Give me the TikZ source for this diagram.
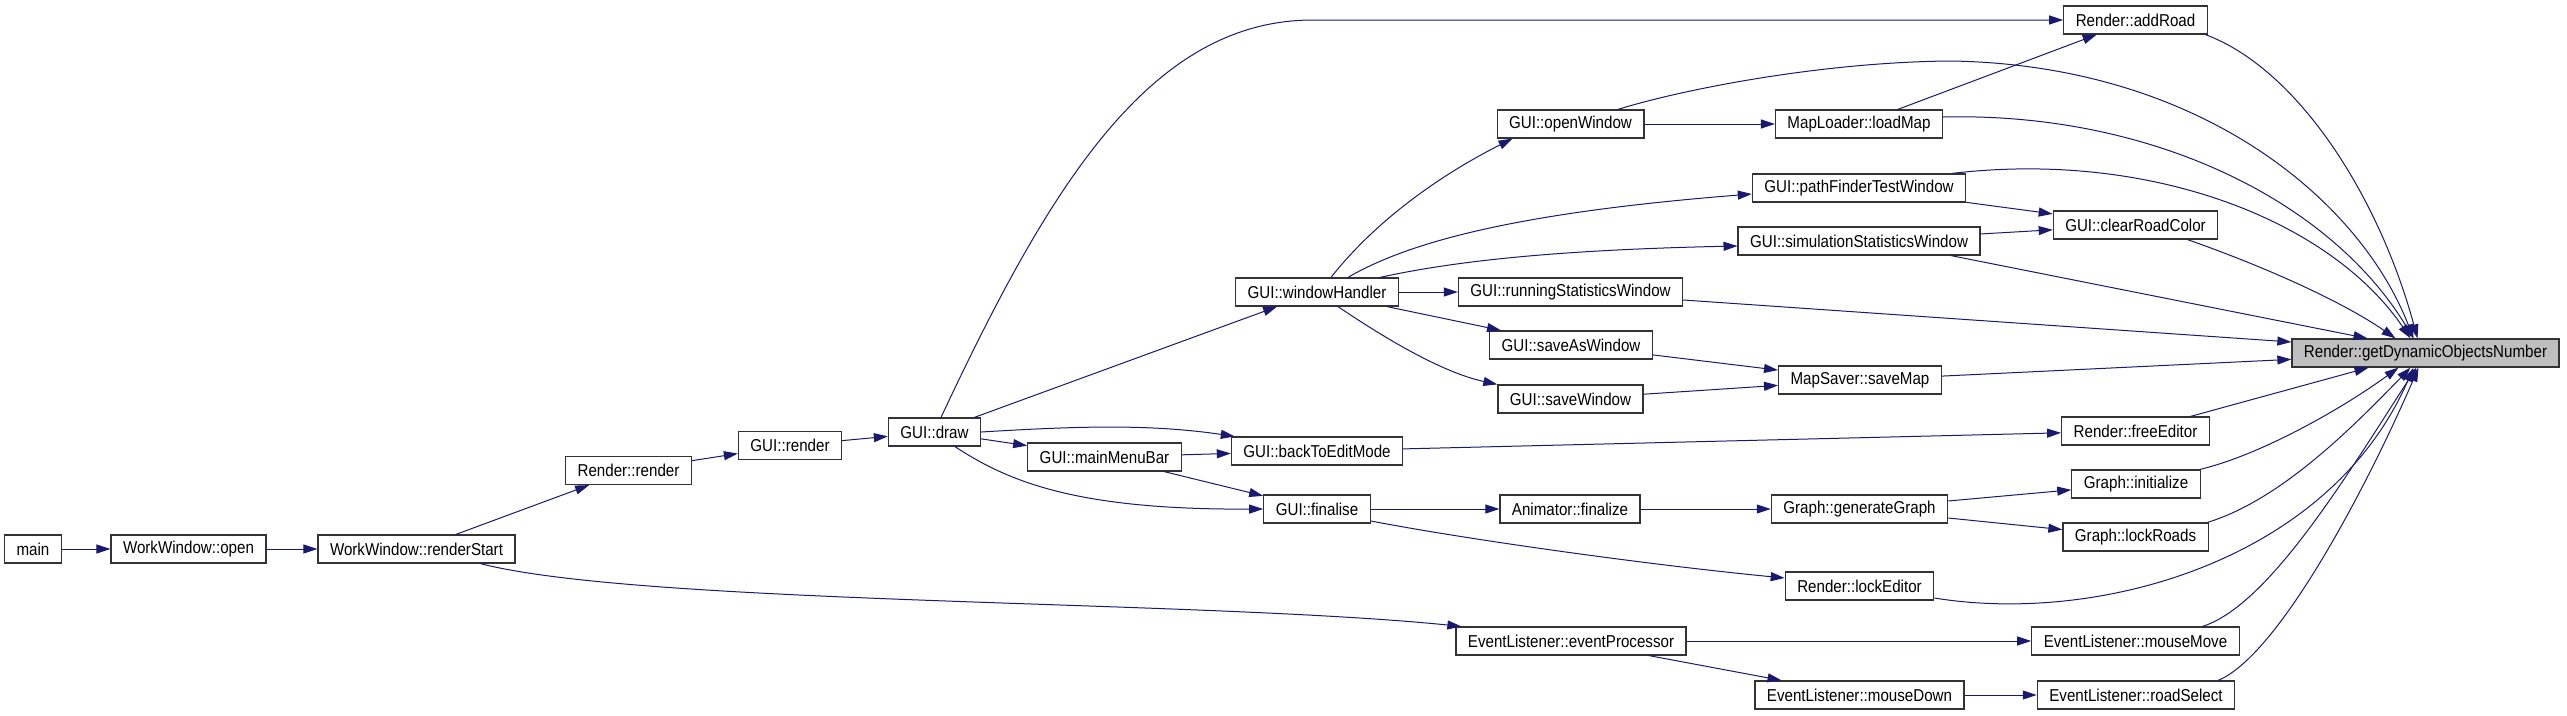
\documentclass[tikz,border=0pt]{standalone}
\usepackage{fontspec}
\setmainfont{Liberation Sans}[FakeStretch=0.88]
\usetikzlibrary{arrows.meta}
\definecolor{edgeblue}{RGB}{25,25,112}
\begin{document}
\begin{tikzpicture}[x=1pt,y=-1pt,font=\fontsize{17.2}{20}\selectfont,
  fn/.style={draw=black!80,line width=1.2pt,fill=white,minimum height=28pt,inner xsep=12pt,inner ysep=0pt},
  fnsel/.style={fn,fill=black!25},
  call/.style={draw=edgeblue,line width=1pt,-{Triangle[length=14pt,width=9pt]}}]
\useasboundingbox (0,0) rectangle (2567,715);
% callers, left to right
\node[fn] (main) at (33,549) {main};
\node[fn] (wwopen) at (188.5,549) {WorkWindow::open};
\node[fn] (rstart) at (416.5,549) {WorkWindow::renderStart};
\node[fn] (rrender) at (628.5,470.5) {Render::render};
\node[fn] (grender) at (790,445.5) {GUI::render};
\node[fn] (gdraw) at (934.5,432) {GUI::draw};
\node[fn] (mmbar) at (1104.5,457) {GUI::mainMenuBar};
\node[fn] (whandler) at (1317,292) {GUI::windowHandler};
\node[fn] (backedit) at (1317,451) {GUI::backToEditMode};
\node[fn] (finalise) at (1317,509) {GUI::finalise};
\node[fn] (openwin) at (1570.5,124) {GUI::openWindow};
\node[fn] (runstat) at (1570.5,292) {GUI::runningStatisticsWindow};
\node[fn] (saveas) at (1571,345) {GUI::saveAsWindow};
\node[fn] (savewin) at (1570.5,399) {GUI::saveWindow};
\node[fn] (anfin) at (1570,509) {Animator::finalize};
\node[fn] (evproc) at (1571,641) {EventListener::eventProcessor};
\node[fn] (loadmap) at (1859,124) {MapLoader::loadMap};
\node[fn] (pathfind) at (1859,188) {GUI::pathFinderTestWindow};
\node[fn] (simstat) at (1859,241) {GUI::simulationStatisticsWindow};
\node[fn] (savemap) at (1860,380) {MapSaver::saveMap};
\node[fn] (gengraph) at (1859.5,509) {Graph::generateGraph};
\node[fn] (lockedit) at (1859.5,586) {Render::lockEditor};
\node[fn] (mdown) at (1859.5,695) {EventListener::mouseDown};
\node[fn] (addroad) at (2135.5,20) {Render::addRoad};
\node[fn] (clearcol) at (2135.5,225) {GUI::clearRoadColor};
\node[fn] (freeed) at (2135.5,431) {Render::freeEditor};
\node[fn] (ginit) at (2136,484) {Graph::initialize};
\node[fn] (lockroads) at (2135.5,537) {Graph::lockRoads};
\node[fn] (mmove) at (2135.5,641) {EventListener::mouseMove};
\node[fn] (rselect) at (2136,695) {EventListener::roadSelect};
\node[fnsel] (gdon) at (2425.5,353) {Render::getDynamicObjectsNumber};
% calls
\draw[call] (main.east) -- (wwopen.west);
\draw[call] (wwopen.east) -- (rstart.west);
\draw[call] (rstart) -- (rrender);
\draw[call] ([xshift=64pt]rstart.south) .. controls (640,605) and (1200,600) .. ([xshift=6pt]evproc.north west);
\draw[call] (rrender) -- (grender);
\draw[call] (grender) -- (gdraw);
\draw[call] ([xshift=6.5pt]gdraw.north) .. controls (1049,187) and (1150,20) .. (1313,20) -- (addroad.west);
\draw[call] (gdraw) -- (whandler);
\draw[call] (gdraw.east) .. controls (1080,426) and (1150,424) .. ([xshift=4pt]backedit.north west);
\draw[call] (gdraw) -- (mmbar);
\draw[call] ([xshift=20.5pt]gdraw.south) .. controls (1010,483) and (1080,510) .. (finalise.west);
\draw[call] (mmbar) -- (backedit);
\draw[call] (mmbar) -- (finalise);
\draw[call] ([xshift=14pt]whandler.north) .. controls (1380,215) and (1450,170) .. ([xshift=16pt]openwin.south west);
\draw[call] ([xshift=31pt]whandler.north) .. controls (1420,235) and (1550,210) .. ([yshift=-6pt]pathfind.west);
\draw[call] ([xshift=63pt]whandler.north) .. controls (1450,262) and (1550,250) .. ([yshift=-5pt]simstat.west);
\draw[call] (whandler.east) -- (runstat.west);
\draw[call] (whandler) -- (saveas);
\draw[call] ([xshift=21pt]whandler.south) .. controls (1380,335) and (1440,372) .. (savewin.north west);
\draw[call] (backedit) -- (freeed);
\draw[call] (finalise.east) -- (anfin.west);
\draw[call] ([yshift=-12pt]finalise.east) .. controls (1470,540) and (1650,565) .. ([yshift=8pt]lockedit.west);
\draw[call] (openwin.east) -- (loadmap.west);
\draw[call] ([xshift=47.5pt]openwin.north) .. controls (1680,90) and (1820,62) .. (1951,61) .. controls (2200,65) and (2360,200) .. ([xshift=-12pt]gdon.north);
\draw[call] (loadmap) -- (addroad);
\draw[call] ([yshift=7pt]loadmap.east) .. controls (2150,112) and (2330,200) .. ([xshift=-12pt]gdon.north);
\draw[call] (pathfind) -- (clearcol);
\draw[call] ([xshift=93pt]pathfind.north) .. controls (2150,150) and (2330,220) .. ([xshift=-15pt]gdon.north);
\draw[call] (simstat) -- (clearcol);
\draw[call] ([xshift=92pt]simstat.south) -- ([xshift=-58pt]gdon.north);
\draw[call] ([yshift=-8pt]runstat.east) -- ([yshift=11pt]gdon.west);
\draw[call] (saveas) -- (savemap);
\draw[call] (savewin) -- (savemap);
\draw[call] (savemap) -- (gdon);
\draw[call] (anfin.east) -- (gengraph.west);
\draw[call] (gengraph) -- (ginit);
\draw[call] (gengraph) -- (lockroads);
\draw[call] ([yshift=-12pt]lockedit.east) .. controls (2100,625) and (2330,560) .. ([xshift=-12pt]gdon.south);
\draw[call] (evproc.east) -- (mmove.west);
\draw[call] (evproc) -- (mdown);
\draw[call] (mdown.east) -- (rselect.west);
\draw[call] ([xshift=70pt]addroad.south) .. controls (2300,70) and (2380,200) .. ([xshift=-8pt]gdon.north);
\draw[call] ([xshift=52pt]clearcol.south) .. controls (2260,265) and (2340,300) .. ([xshift=-30pt]gdon.north);
\draw[call] ([xshift=55pt]freeed.north) -- ([xshift=-57pt]gdon.south);
\draw[call] ([xshift=64pt]ginit.north) .. controls (2260,455) and (2340,410) .. ([xshift=-27pt]gdon.south);
\draw[call] ([xshift=72pt]lockroads.north) .. controls (2280,500) and (2350,430) .. ([xshift=-15pt]gdon.south);
\draw[call] ([xshift=67pt]mmove.north) .. controls (2270,605) and (2350,470) .. ([xshift=-9pt]gdon.south);
\draw[call] ([xshift=82pt]rselect.north) .. controls (2280,655) and (2370,480) .. ([xshift=-7pt]gdon.south);
\end{tikzpicture}
\end{document}
